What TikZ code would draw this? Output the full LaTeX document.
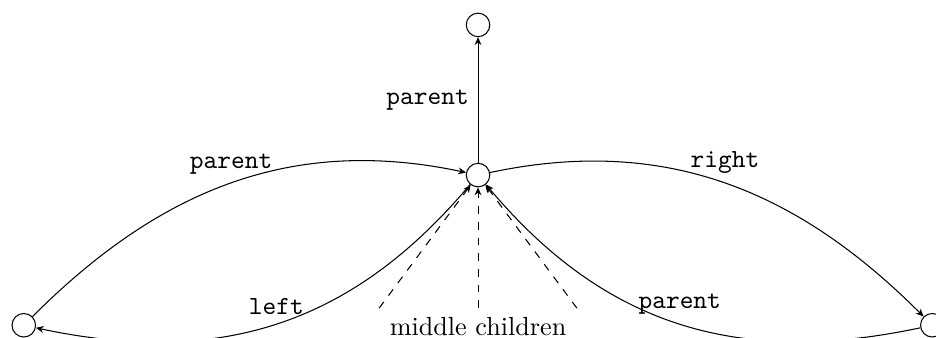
\documentclass[tikz,border=0pt]{standalone}
\usepackage{tikz}
\usetikzlibrary{arrows.meta}

\begin{document}
\begin{tikzpicture}[>={Stealth[length=3pt,width=2.6pt]},
    nus/.style={circle, draw, minimum size=9pt, inner sep=0pt},
    etiq/.style={font=\ttfamily}]

\useasboundingbox (-6.43,-2.18) rectangle (6.16,2.355);

% Nodes
\node[nus] (avi) at (0,2.02) {};
\node[nus] (x) at (0,0) {};
\node[nus] (fe) at (-6.11,-2.02) {};
\node[nus] (fd) at (6.11,-2.02) {};

% Punters
\draw[->] (x) -- node[left, etiq] {parent} (avi);
\draw[->] (fe) to[out=45, in=168] node[above, etiq] {parent} (x);
\draw[->] (x) to[out=12, in=135] node[above, etiq] {right} (fd);
\draw[->] (x) to[out=230, in=-12, looseness=1.04] node[above, etiq] {left} (fe);
\draw[->] (fd) to[out=192, in=-50, looseness=1.04] node[above, etiq] {parent} (x);

% Fills del mig
\coordinate (m1) at (-1.33,-1.79);
\coordinate (m2) at (0,-1.79);
\coordinate (m3) at (1.33,-1.79);
\draw[dashed, ->] (m1) -- (x);
\draw[dashed, ->] (m2) -- (x);
\draw[dashed, ->] (m3) -- (x);
\node[inner sep=1pt] (mig) at (0,-2.04) {middle children};

\end{tikzpicture}
\end{document}
